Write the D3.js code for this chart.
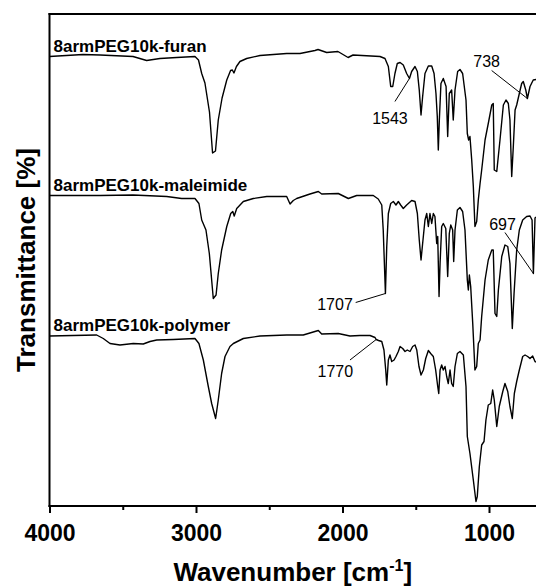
<!DOCTYPE html>
<html>
<head>
<meta charset="utf-8">
<script src="https://cdn.jsdelivr.net/npm/d3@7"></script>
<style>
  html, body { margin: 0; padding: 0; background: #fff; }
  svg { display: block; font-family: "Liberation Sans", Arial, sans-serif; }
</style>
</head>
<body>
<svg id="chart" width="536" height="588"></svg>
<script>
// FTIR spectra of the 8-arm PEG building blocks and the resulting polymer.
// Wavenumbers in cm^-1; transmittance in arbitrary units, traces offset vertically.

const furanWn = [4000,3771,3655,3430,3337,3246,3132,3007,2983,2961,2939,2908,2887,2867,2848,2822,2790,2764,2752,2741,2724,2700,2654,2563,2381,2290,2188,2167,2108,2031,1962,1928,1744,1710,1687,1671,1657,1642,1626,1607,1585,1562,1543,1528,1505,1489,1476,1464,1453,1437,1414,1391,1375,1362,1353,1346,1339,1328,1312,1293,1282,1271,1255,1244,1232,1214,1198,1180,1157,1148,1139,1130,1118,1107,1096,1084,1073,1061,1050,1027,1005,981,971,964,947,925,902,884,868,857,845,834,822,811,793,777,766,749,738,720,698,679];
const furanT = [89.9,90.3,90.2,89.9,89.1,89.5,89.7,89.9,89.2,86.5,84.6,78.8,70.6,71.0,77.2,81.6,85.2,87.1,87.2,86.6,87.9,88.9,89.5,90.1,90.5,90.5,91.1,91.3,90.7,90.9,89.7,90.2,89.9,89.5,87.9,83.9,83.9,86.5,88.5,88.7,88.2,86.5,85.5,86.9,87.9,86.9,83.2,78.2,81.9,86.5,88.0,88.0,86.5,82.5,77.9,71.2,77.2,84.5,85.5,83.9,73.9,82.5,83.2,77.2,83.2,86.9,87.3,86.5,81.2,74.5,73.2,73.9,69.2,63.9,55.9,56.9,61.2,64.5,67.2,73.2,76.5,80.2,80.5,67.2,66.9,73.2,80.2,81.2,80.5,77.2,65.9,71.9,79.2,80.2,82.5,84.5,84.9,83.2,81.5,83.9,85.2,85.3];

const maleimideWn = [4000,3655,3430,3200,3098,3007,2980,2961,2932,2909,2882,2863,2848,2825,2790,2763,2749,2739,2722,2677,2609,2517,2381,2358,2336,2313,2222,2165,2142,2029,1960,1903,1790,1756,1732,1722,1707,1698,1687,1671,1653,1635,1619,1603,1585,1562,1528,1505,1489,1476,1464,1453,1437,1425,1414,1403,1391,1380,1369,1357,1350,1341,1334,1323,1312,1295,1282,1271,1261,1248,1241,1232,1216,1198,1180,1164,1148,1141,1134,1125,1111,1096,1084,1073,1061,1050,1027,1005,981,971,959,947,936,913,891,872,857,841,829,811,793,770,743,720,706,697,686,679];
const maleimideT = [62.1,62.1,62.2,61.9,61.5,61.5,60.5,57.2,55.2,50.5,41.5,42.2,46.5,51.2,55.9,58.5,58.9,58.0,59.5,60.9,61.5,61.9,61.9,60.4,61.1,61.5,62.4,62.9,62.4,62.5,61.5,62.1,62.1,61.4,60.2,55.2,42.5,51.9,58.5,60.5,60.9,60.2,60.9,60.2,59.5,60.2,61.1,60.9,58.5,53.2,49.2,52.5,57.2,58.5,55.9,58.5,56.5,58.5,57.9,52.5,53.9,41.9,48.5,55.9,56.5,55.5,45.9,54.5,56.2,55.2,48.9,55.2,59.2,59.7,58.9,55.2,45.2,43.2,46.2,43.9,36.5,27.2,27.9,32.5,33.2,37.9,45.2,49.2,51.2,51.2,38.5,37.9,43.2,49.9,52.2,51.9,48.5,35.5,42.5,51.2,55.2,57.2,57.9,58.0,57.2,46.5,57.6,57.8];

const polymerWn = [4000,3678,3633,3587,3519,3428,3360,3314,3268,3155,3007,2980,2950,2916,2893,2866,2848,2825,2802,2768,2745,2677,2563,2381,2268,2188,2165,2142,2029,1949,1881,1812,1778,1770,1754,1732,1717,1705,1698,1687,1676,1664,1648,1635,1619,1607,1589,1573,1558,1539,1521,1505,1493,1478,1464,1448,1432,1414,1398,1380,1364,1350,1343,1334,1323,1312,1300,1289,1278,1266,1255,1244,1232,1216,1198,1175,1157,1148,1130,1107,1089,1080,1066,1050,1034,1021,1005,988,975,964,947,930,906,891,872,857,841,827,811,793,770,754,736,720,702,686,679];
const polymerT = [34.0,34.2,33.5,32.5,32.2,32.5,32.4,32.9,33.2,33.3,33.5,32.5,29.2,23.9,20.5,17.5,21.2,26.5,29.9,31.9,32.5,33.5,34.0,34.2,34.2,34.9,35.1,34.4,34.5,34.0,34.1,34.1,33.7,33.3,33.1,32.9,31.2,27.2,24.2,29.2,30.2,28.9,29.2,29.9,30.9,31.9,31.5,30.9,31.2,30.9,31.9,32.2,31.2,27.9,26.2,27.2,29.5,31.1,30.5,29.9,27.2,23.9,22.5,27.2,28.2,27.2,27.9,25.9,24.5,27.2,24.5,23.9,27.9,30.5,30.9,30.2,23.9,13.9,10.5,5.2,0.9,1.9,7.9,12.2,12.9,17.2,20.2,20.5,23.2,21.2,15.9,19.9,22.9,24.5,22.9,19.9,17.5,22.5,24.9,27.2,29.9,30.2,29.9,29.5,30.0,28.9,28.8];

const seriesNames = ["8armPEG10k-furan", "8armPEG10k-maleimide", "8armPEG10k-polymer"];

// Peak callouts: marked band, the transmittance at that band, and where its label sits.
const peakLabels = ["1543", "738", "1707", "697", "1770"];
const peakWn = [1543, 738, 1707, 697, 1770];
const peakT = [85.5, 81.5, 42.5, 46.5, 33.3];
const peakLabelWn = [1676, 1016, 2051, 908, 2049];
const peakLabelT = [76.5, 87.9, 39.2, 55.2, 25.8];
const peakLeaderWn = [1642, 982, 1910, 891, 1949];
const peakLeaderT = [80.9, 87.1, 40.7, 54.7, 29.2];

const majorTicks = [4000, 3000, 2000, 1000];
const minorTicks = [3500, 2500, 1500];

const xTitle = "Wavenumber [cm";
const yTitle = "Transmittance [%]";

// ---- layout ----
const W = 536, H = 588;
const mLeft = 49.5, mTop = 14, mBottom = 506;

const x = d3.scaleLinear().domain([4000, 650]).range([mLeft, mLeft + 3350 * 0.1465]);
const y = d3.scaleLinear().domain([0, 98.4]).range([mBottom, mTop]);

const svg = d3.select("#chart");

svg.append("defs").append("clipPath").attr("id", "plot-clip")
  .append("rect").attr("x", mLeft).attr("y", mTop).attr("width", W - mLeft).attr("height", mBottom - mTop);

// ---- spectra ----
const series = [
  { name: seriesNames[0], wn: furanWn, t: furanT },
  { name: seriesNames[1], wn: maleimideWn, t: maleimideT },
  { name: seriesNames[2], wn: polymerWn, t: polymerT }
];

const line = d3.line().x(d => x(d[0])).y(d => y(d[1]));

const plot = svg.append("g").attr("clip-path", "url(#plot-clip)");
series.forEach(s => {
  const pts = s.wn.map((w, i) => [w, s.t[i]]);
  plot.append("path")
    .datum(pts)
    .attr("fill", "none")
    .attr("stroke", "#000")
    .attr("stroke-width", 1.4)
    .attr("stroke-linejoin", "round")
    .attr("d", line);

  svg.append("text")
    .attr("x", mLeft + 4)
    .attr("y", y(s.t[0]) - 5)
    .attr("font-size", 17)
    .attr("font-weight", "bold")
    .text(s.name);
});

// ---- peak callouts ----
peakLabels.forEach((lab, i) => {
  svg.append("line")
    .attr("x1", x(peakLeaderWn[i])).attr("y1", y(peakLeaderT[i]))
    .attr("x2", x(peakWn[i])).attr("y2", y(peakT[i]))
    .attr("stroke", "#000").attr("stroke-width", 1);
  svg.append("text")
    .attr("x", x(peakLabelWn[i]))
    .attr("y", y(peakLabelT[i]))
    .attr("text-anchor", "middle")
    .attr("font-size", 16)
    .text(lab);
});

// ---- axes and frame ----
const xAxis = svg.append("g").attr("transform", `translate(0,${mBottom})`)
  .call(d3.axisBottom(x).tickValues(majorTicks).tickFormat(d3.format("d")).tickSize(7).tickPadding(12));
xAxis.select(".domain").remove();
xAxis.selectAll(".tick line").attr("stroke-width", 2);
xAxis.selectAll(".tick text")
  .attr("font-size", 23).attr("font-weight", "bold")
  .attr("font-family", "'Liberation Sans', Arial, sans-serif").attr("fill", "#000");

const xMinor = svg.append("g").attr("transform", `translate(0,${mBottom})`)
  .call(d3.axisBottom(x).tickValues(minorTicks).tickFormat("").tickSize(4));
xMinor.select(".domain").remove();
xMinor.selectAll(".tick line").attr("stroke-width", 2);

const frame = svg.append("g").attr("stroke", "#000").attr("stroke-width", 2).attr("fill", "none");
frame.append("line").attr("x1", mLeft - 1).attr("x2", W).attr("y1", mBottom).attr("y2", mBottom);
frame.append("line").attr("x1", mLeft - 1).attr("x2", W).attr("y1", mTop).attr("y2", mTop);
frame.append("line").attr("x1", mLeft).attr("x2", mLeft).attr("y1", mTop - 1).attr("y2", mBottom + 1);

// ---- axis titles ----
const xt = svg.append("text")
  .attr("x", (mLeft + W) / 2)
  .attr("y", 581)
  .attr("text-anchor", "middle")
  .attr("font-size", 26)
  .attr("font-weight", "bold");
xt.append("tspan").text(xTitle);
xt.append("tspan").attr("font-size", 16).attr("dy", -10).text("-1");
xt.append("tspan").attr("dy", 10).text("]");

svg.append("text")
  .attr("transform", `translate(35,${(mTop + mBottom) / 2}) rotate(-90)`)
  .attr("text-anchor", "middle")
  .attr("font-size", 26)
  .attr("font-weight", "bold")
  .text(yTitle);
</script>
</body>
</html>
